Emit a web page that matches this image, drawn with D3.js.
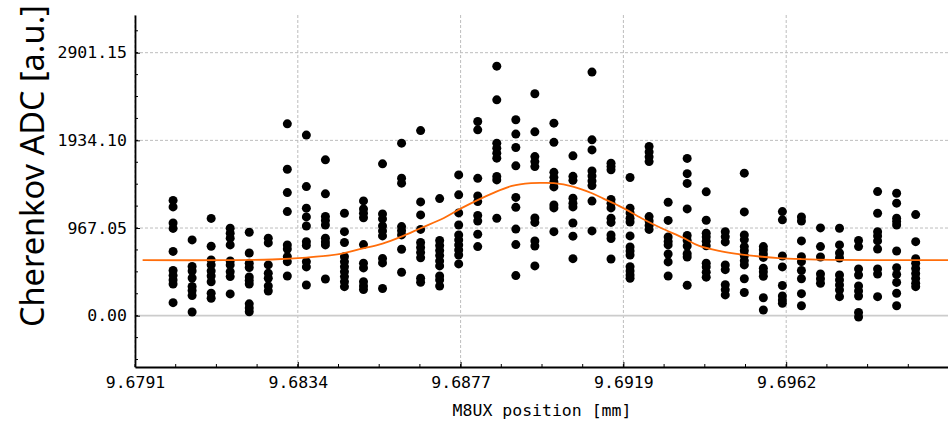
<!DOCTYPE html>
<html><head><meta charset="utf-8">
<script src="https://cdn.jsdelivr.net/npm/d3@7"></script>
<style>body{margin:0;background:#fff} svg{display:block}</style>
</head><body><svg id="c" width="948" height="426"></svg>
<script>
// ---- data ----
const positions = [
  9.6801, 9.6806, 9.6811, 9.6816, 9.6821, 9.6826, 9.6831, 9.6836, 9.6841, 9.6846,
  9.6851, 9.6856, 9.6861, 9.6866, 9.6871, 9.6876, 9.6881, 9.6886, 9.6891, 9.6896,
  9.6901, 9.6906, 9.6911, 9.6916, 9.6921, 9.6926, 9.6931, 9.6936, 9.6941, 9.6946,
  9.6951, 9.6956, 9.6961, 9.6966, 9.6971, 9.6976, 9.6981, 9.6986, 9.6991, 9.6996
];
const adcValues = [
  [1272,1200,1023,963,709,499,444,394,350,144],
  [836,543,493,416,322,278,223,41],
  [1073,766,615,560,493,438,375,247,192],
  [965,910,855,781,604,560,486,431,240],
  [921,692,578,532,427,389,350,131,85,44],
  [855,803,560,468,413,328,273],
  [2116,1616,1358,1148,781,736,651,596,438],
  [1992,1424,1186,1090,990,817,775,596,538,339],
  [1719,1344,1095,1051,1001,855,814,781,405],
  [1130,927,808,651,596,541,486,431,375,320],
  [1266,1178,1130,1081,784,578,527,375,328,289],
  [1675,1123,1068,990,935,880,631,582,300],
  [1903,1517,1462,983,938,891,733,479],
  [2042,1255,1112,952,808,753,698,639,413,369],
  [1292,830,775,720,665,604,549,438,395,328],
  [1553,1333,1134,1001,891,836,781,725,670,571],
  [2142,2050,1515,1321,1259,1106,1045,899,762],
  [2753,2381,1903,1848,1793,1738,1535,1498,1075],
  [2161,2003,1855,1653,1305,1195,955,784,442],
  [2448,2028,1755,1700,1645,1079,1029,825,769,549],
  [2124,1912,1581,1526,1476,1421,1222,1189,927],
  [1763,1537,1493,1296,1241,1200,1023,877,629],
  [2687,1940,1829,1597,1542,1487,1435,1264,935],
  [1682,1645,1609,1283,1239,1189,1075,1029,891,852,626],
  [1524,1186,1134,1075,1034,880,758,714,670,541,493,449,413],
  [1866,1807,1752,1700,1093,1045,996,952],
  [1252,1051,869,819,781,681,593,438],
  [1735,1567,1459,1178,885,830,769,684,648,336],
  [1366,1053,910,869,822,772,578,538,480,425],
  [927,872,814,560,508,342,287,229],
  [1572,1145,891,839,762,716,661,606,560,408,256],
  [762,725,681,643,523,482,435,198,63],
  [1148,1057,659,538,333,217,173,137],
  [1090,1045,825,651,596,499,408,243,110],
  [968,762,648,460,408,358],
  [965,781,692,637,449,394,339,284,210],
  [830,762,516,449,328,273,217,35,-14],
  [1369,1130,927,880,825,736,516,460,210],
  [1351,1241,1075,1038,1001,714,530,455,367,247,110],
  [1115,817,629,578,521,466,411,358,320]
];
// fit curve
const fitX = [9.6793, 9.6815, 9.6827, 9.6836, 9.6845, 9.6850, 9.6856, 9.6861, 9.6866, 9.6872,
              9.6877, 9.6885, 9.6890, 9.6895, 9.6898, 9.6901, 9.6906, 9.6911, 9.6914, 9.6919,
              9.6924, 9.6929, 9.6935, 9.6939, 9.6945, 9.6950, 9.6955, 9.6960, 9.6966, 9.6974,
              9.6984, 9.7005];
const fitY = [612, 613, 620, 641, 681, 733, 794, 872, 965, 1075,
              1192, 1352, 1432, 1462, 1465, 1462, 1424, 1351, 1292, 1192,
              1075, 970, 858, 772, 710, 676, 653, 636, 625, 616,
              613, 612];
const xTickValues = [9.6791, 9.683375, 9.68765, 9.691925, 9.6962];
const xTickLabels = ["9.6791", "9.6834", "9.6877", "9.6919", "9.6962"];
const yTickValues = [0, 967.05, 1934.10, 2901.15];
const yTickLabels = ["0.00", "967.05", "1934.10", "2901.15"];
const xLabel = "M8UX position [mm]";
const yLabel = "Cherenkov ADC [a.u.]";

// ---- layout ----
const L = 135, R = 949, T = 15, B = 367;
const svg = d3.select("#c");
const x = d3.scaleLinear().domain([9.6791, 9.700475]).range([L, R]);
const y = d3.scaleLinear().domain([-566, 3317]).range([B, T]);

const xStep = 0.004275, yStep = 967.05;
const xMinor = d3.range(0, 21).map(i => 9.6791 + i * xStep / 4);
const yMinor = d3.range(-2, 14).map(i => i * yStep / 4).filter(v => v <= 3317);

// grid
const g = svg.append("g");
g.selectAll(".gx").data(xTickValues).join("line")
  .attr("x1", d => x(d)).attr("x2", d => x(d)).attr("y1", T).attr("y2", B)
  .attr("stroke", "#bdbdbd").attr("stroke-width", 1).attr("stroke-dasharray", "3,2");
g.selectAll(".gy").data(yTickValues.filter(v => v !== 0)).join("line")
  .attr("x1", L).attr("x2", R).attr("y1", d => y(d)).attr("y2", d => y(d))
  .attr("stroke", "#bdbdbd").attr("stroke-width", 1).attr("stroke-dasharray", "3,2");
// zero line
g.append("line").attr("x1", L).attr("x2", R).attr("y1", y(0)).attr("y2", y(0))
  .attr("stroke", "#cccccc").attr("stroke-width", 1.8);

// points
const pts = [];
positions.forEach((p, i) => adcValues[i].forEach(v => pts.push([p, v])));
svg.append("g").selectAll("circle").data(pts).join("circle")
  .attr("cx", d => x(d[0])).attr("cy", d => y(d[1])).attr("r", 4.5).attr("fill", "#000");

// fit
const line = d3.line().x((d, i) => x(fitX[i])).y(d => y(d)).curve(d3.curveCatmullRom.alpha(0.5));
svg.append("path").attr("d", line(fitY)).attr("fill", "none")
  .attr("stroke", "#ff6d0a").attr("stroke-width", 1.8);

// axes
const fontTick = "'DejaVu Sans Mono', monospace";
const xAxis = d3.axisBottom(x).tickValues(xTickValues).tickFormat((d, i) => xTickLabels[i])
  .tickSizeInner(-5).tickSizeOuter(0).tickPadding(9);
const gx = svg.append("g").attr("transform", `translate(0,${B})`).call(xAxis);
const yAxis = d3.axisLeft(y).tickValues(yTickValues).tickFormat((d, i) => yTickLabels[i])
  .tickSizeInner(-5).tickSizeOuter(0).tickPadding(8);
const gy = svg.append("g").attr("transform", `translate(${L},0)`).call(yAxis);
[gx, gy].forEach(a => {
  a.select(".domain").attr("stroke", "#000").attr("stroke-width", 1.8);
  a.selectAll(".tick line").attr("stroke", "#000").attr("stroke-width", 1);
  a.selectAll("text").attr("font-family", fontTick).attr("font-size", 16.5).attr("fill", "#000");
});
// minor ticks
svg.append("g").selectAll("line").data(xMinor).join("line")
  .attr("x1", d => x(d)).attr("x2", d => x(d)).attr("y1", B).attr("y2", B - 3)
  .attr("stroke", "#000").attr("stroke-width", 1);
svg.append("g").selectAll("line").data(yMinor).join("line")
  .attr("x1", L).attr("x2", L + 3).attr("y1", d => y(d)).attr("y2", d => y(d))
  .attr("stroke", "#000").attr("stroke-width", 1);

// labels
svg.append("text").attr("x", (L + R) / 2).attr("y", 416).attr("text-anchor", "middle")
  .attr("font-family", fontTick).attr("font-size", 16.5).text(xLabel);
svg.append("text").attr("transform", "translate(44,166) rotate(-90)")
  .attr("text-anchor", "middle").attr("font-family", "'Noto Sans', sans-serif")
  .attr("font-size", 32.5).text(yLabel);
</script></body></html>
